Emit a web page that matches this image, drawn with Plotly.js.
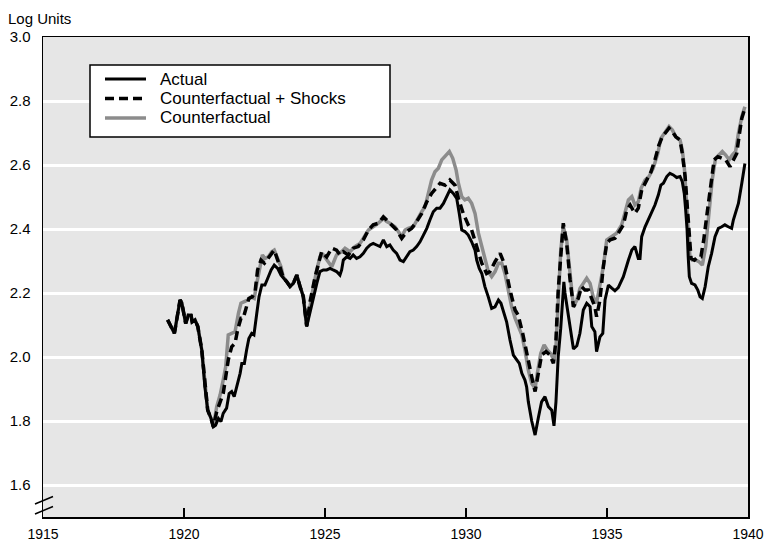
<!DOCTYPE html>
<html>
<head>
<meta charset="utf-8">
<script src="https://cdn.plot.ly/plotly-3.0.1.min.js"></script>
<style>html,body{margin:0;padding:0;background:#fff;}#chart{width:768px;height:543px;}</style>
</head>
<body>
<div id="chart"></div>
<script>
// [year, log units]
const actual = [[1919.42,2.116],[1919.66,2.074],[1919.86,2.178],[1919.92,2.170],[1920.06,2.105],[1920.15,2.131],[1920.25,2.130],[1920.29,2.110],[1920.39,2.116],[1920.49,2.095],[1920.63,2.022],[1920.74,1.907],[1920.84,1.834],[1920.96,1.808],[1921.04,1.782],[1921.12,1.787],[1921.22,1.808],[1921.31,1.798],[1921.39,1.824],[1921.51,1.840],[1921.60,1.886],[1921.69,1.892],[1921.78,1.876],[1921.87,1.907],[1921.99,1.949],[1922.05,1.980],[1922.14,1.980],[1922.22,2.022],[1922.30,2.058],[1922.40,2.074],[1922.48,2.069],[1922.58,2.136],[1922.66,2.188],[1922.76,2.225],[1922.87,2.225],[1922.97,2.246],[1923.09,2.272],[1923.20,2.287],[1923.32,2.277],[1923.44,2.256],[1923.52,2.246],[1923.64,2.235],[1923.76,2.220],[1923.88,2.230],[1924.00,2.256],[1924.11,2.220],[1924.23,2.188],[1924.35,2.095],[1924.47,2.140],[1924.59,2.194],[1924.71,2.230],[1924.82,2.267],[1924.94,2.272],[1925.06,2.272],[1925.18,2.277],[1925.29,2.272],[1925.41,2.267],[1925.53,2.256],[1925.59,2.272],[1925.65,2.303],[1925.77,2.313],[1925.89,2.308],[1926.00,2.319],[1926.12,2.308],[1926.24,2.313],[1926.36,2.324],[1926.48,2.340],[1926.60,2.350],[1926.71,2.355],[1926.83,2.350],[1926.95,2.345],[1927.07,2.366],[1927.19,2.345],[1927.30,2.350],[1927.42,2.334],[1927.54,2.324],[1927.66,2.303],[1927.78,2.298],[1927.90,2.313],[1928.01,2.329],[1928.13,2.334],[1928.25,2.345],[1928.37,2.360],[1928.49,2.381],[1928.61,2.402],[1928.72,2.428],[1928.84,2.454],[1928.96,2.465],[1929.08,2.465],[1929.20,2.480],[1929.32,2.501],[1929.43,2.522],[1929.55,2.511],[1929.67,2.496],[1929.76,2.449],[1929.85,2.397],[1929.96,2.392],[1930.08,2.381],[1930.20,2.360],[1930.32,2.334],[1930.38,2.303],[1930.47,2.277],[1930.56,2.261],[1930.67,2.220],[1930.79,2.188],[1930.91,2.152],[1931.03,2.157],[1931.15,2.178],[1931.24,2.168],[1931.35,2.136],[1931.44,2.110],[1931.56,2.053],[1931.68,2.006],[1931.80,1.991],[1931.89,1.980],[1931.98,1.949],[1932.09,1.928],[1932.15,1.907],[1932.21,1.860],[1932.33,1.800],[1932.45,1.756],[1932.56,1.808],[1932.68,1.860],[1932.80,1.876],[1932.92,1.845],[1933.04,1.834],[1933.12,1.785],[1933.19,1.860],[1933.27,2.001],[1933.36,2.090],[1933.43,2.200],[1933.47,2.235],[1933.51,2.200],[1933.63,2.130],[1933.75,2.050],[1933.81,2.025],[1933.93,2.035],[1934.04,2.074],[1934.16,2.147],[1934.28,2.168],[1934.40,2.157],[1934.46,2.095],[1934.57,2.079],[1934.63,2.017],[1934.75,2.063],[1934.85,2.074],[1934.93,2.178],[1935.05,2.225],[1935.17,2.215],[1935.28,2.207],[1935.40,2.217],[1935.58,2.251],[1935.76,2.303],[1935.88,2.334],[1935.99,2.345],[1936.11,2.308],[1936.17,2.308],[1936.23,2.376],[1936.35,2.407],[1936.46,2.428],[1936.59,2.454],[1936.70,2.475],[1936.82,2.506],[1936.91,2.537],[1937.00,2.543],[1937.12,2.564],[1937.23,2.574],[1937.35,2.569],[1937.47,2.561],[1937.59,2.564],[1937.67,2.548],[1937.74,2.511],[1937.79,2.459],[1937.84,2.397],[1937.88,2.313],[1937.92,2.251],[1938.00,2.230],[1938.12,2.225],[1938.22,2.209],[1938.30,2.188],[1938.38,2.183],[1938.48,2.220],[1938.59,2.282],[1938.71,2.324],[1938.83,2.376],[1938.95,2.402],[1939.07,2.407],[1939.18,2.413],[1939.30,2.407],[1939.42,2.402],[1939.48,2.428],[1939.60,2.465],[1939.66,2.480],[1939.78,2.543],[1939.89,2.605]];

const counterfactualShocks = [[1919.42,2.116],[1919.66,2.074],[1919.86,2.178],[1919.92,2.170],[1920.06,2.105],[1920.15,2.131],[1920.25,2.130],[1920.29,2.110],[1920.39,2.116],[1920.49,2.095],[1920.63,2.022],[1920.74,1.907],[1920.84,1.834],[1920.96,1.808],[1921.04,1.782],[1921.16,1.829],[1921.28,1.855],[1921.39,1.886],[1921.48,1.938],[1921.57,1.991],[1921.69,2.032],[1921.81,2.043],[1921.90,2.084],[1922.02,2.121],[1922.10,2.121],[1922.19,2.152],[1922.30,2.183],[1922.42,2.188],[1922.52,2.204],[1922.61,2.272],[1922.73,2.303],[1922.85,2.293],[1922.97,2.308],[1923.09,2.324],[1923.20,2.334],[1923.34,2.298],[1923.44,2.270],[1923.52,2.248],[1923.64,2.236],[1923.76,2.221],[1923.88,2.231],[1924.00,2.256],[1924.11,2.221],[1924.23,2.189],[1924.35,2.097],[1924.47,2.173],[1924.65,2.251],[1924.88,2.329],[1925.06,2.313],[1925.24,2.340],[1925.41,2.334],[1925.53,2.319],[1925.65,2.329],[1925.83,2.319],[1926.00,2.340],[1926.18,2.345],[1926.36,2.366],[1926.54,2.397],[1926.71,2.413],[1926.89,2.418],[1927.07,2.438],[1927.19,2.428],[1927.37,2.413],[1927.54,2.397],[1927.72,2.371],[1927.90,2.392],[1928.07,2.402],[1928.25,2.423],[1928.43,2.449],[1928.61,2.485],[1928.78,2.511],[1928.96,2.532],[1929.08,2.543],[1929.26,2.537],[1929.43,2.553],[1929.61,2.537],[1929.73,2.496],[1929.90,2.449],[1930.08,2.413],[1930.20,2.397],[1930.38,2.345],[1930.56,2.293],[1930.73,2.261],[1930.85,2.267],[1931.03,2.298],[1931.21,2.324],[1931.38,2.287],[1931.56,2.209],[1931.74,2.147],[1931.85,2.131],[1932.01,2.074],[1932.15,2.011],[1932.33,1.938],[1932.45,1.892],[1932.56,1.949],[1932.68,2.006],[1932.84,2.017],[1932.98,2.006],[1933.10,1.980],[1933.19,2.053],[1933.27,2.209],[1933.39,2.366],[1933.45,2.418],[1933.57,2.355],[1933.69,2.241],[1933.81,2.157],[1933.98,2.183],[1934.10,2.220],[1934.22,2.209],[1934.34,2.209],[1934.46,2.178],[1934.57,2.157],[1934.63,2.126],[1934.75,2.178],[1934.87,2.282],[1934.99,2.355],[1935.11,2.366],[1935.28,2.371],[1935.40,2.387],[1935.58,2.413],[1935.70,2.459],[1935.82,2.475],[1935.99,2.449],[1936.11,2.465],[1936.23,2.522],[1936.41,2.553],[1936.56,2.579],[1936.70,2.616],[1936.84,2.662],[1936.96,2.688],[1937.08,2.704],[1937.20,2.715],[1937.32,2.704],[1937.44,2.688],[1937.59,2.678],[1937.67,2.636],[1937.77,2.564],[1937.84,2.470],[1937.91,2.376],[1937.98,2.308],[1938.10,2.303],[1938.22,2.313],[1938.33,2.313],[1938.43,2.366],[1938.55,2.449],[1938.66,2.532],[1938.80,2.616],[1938.93,2.626],[1939.07,2.621],[1939.21,2.616],[1939.36,2.595],[1939.48,2.616],[1939.60,2.636],[1939.68,2.688],[1939.78,2.746],[1939.89,2.777]];

const counterfactual = [[1919.42,2.116],[1919.66,2.074],[1919.86,2.178],[1919.92,2.170],[1920.06,2.105],[1920.15,2.131],[1920.25,2.130],[1920.29,2.110],[1920.39,2.116],[1920.49,2.095],[1920.63,2.022],[1920.74,1.907],[1920.84,1.834],[1920.96,1.808],[1921.04,1.782],[1921.16,1.845],[1921.28,1.881],[1921.39,1.928],[1921.48,1.970],[1921.57,2.069],[1921.69,2.074],[1921.81,2.079],[1921.93,2.136],[1922.02,2.168],[1922.14,2.173],[1922.26,2.178],[1922.38,2.188],[1922.49,2.183],[1922.58,2.230],[1922.70,2.287],[1922.78,2.319],[1922.87,2.308],[1922.99,2.313],[1923.11,2.329],[1923.20,2.334],[1923.32,2.308],[1923.44,2.282],[1923.52,2.250],[1923.64,2.237],[1923.76,2.222],[1923.88,2.232],[1924.00,2.256],[1924.11,2.222],[1924.23,2.190],[1924.35,2.098],[1924.47,2.168],[1924.59,2.220],[1924.71,2.272],[1924.82,2.313],[1924.94,2.319],[1925.06,2.303],[1925.18,2.287],[1925.24,2.282],[1925.41,2.319],[1925.59,2.329],[1925.71,2.340],[1925.89,2.329],[1926.06,2.345],[1926.24,2.355],[1926.36,2.371],[1926.54,2.397],[1926.71,2.407],[1926.89,2.418],[1927.07,2.433],[1927.19,2.423],[1927.30,2.418],[1927.48,2.407],[1927.60,2.392],[1927.72,2.376],[1927.84,2.397],[1927.95,2.402],[1928.13,2.407],[1928.25,2.428],[1928.43,2.454],[1928.55,2.470],[1928.66,2.511],[1928.78,2.553],[1928.90,2.579],[1929.02,2.590],[1929.14,2.616],[1929.26,2.626],[1929.41,2.642],[1929.53,2.621],[1929.65,2.584],[1929.73,2.543],[1929.85,2.501],[1929.96,2.491],[1930.08,2.496],[1930.20,2.480],[1930.32,2.449],[1930.44,2.387],[1930.56,2.345],[1930.67,2.303],[1930.79,2.267],[1930.91,2.251],[1931.03,2.267],[1931.15,2.293],[1931.27,2.293],[1931.38,2.261],[1931.50,2.209],[1931.62,2.157],[1931.74,2.121],[1931.85,2.100],[1931.98,2.069],[1932.09,2.022],[1932.21,1.959],[1932.33,1.917],[1932.45,1.902],[1932.53,1.949],[1932.65,2.011],[1932.77,2.038],[1932.88,2.022],[1933.00,2.011],[1933.12,1.991],[1933.19,2.032],[1933.27,2.168],[1933.36,2.334],[1933.45,2.407],[1933.57,2.366],[1933.69,2.261],[1933.81,2.157],[1933.93,2.178],[1934.04,2.214],[1934.16,2.230],[1934.28,2.246],[1934.40,2.230],[1934.51,2.188],[1934.63,2.168],[1934.75,2.220],[1934.87,2.282],[1934.99,2.366],[1935.17,2.376],[1935.34,2.387],[1935.52,2.413],[1935.64,2.449],[1935.76,2.491],[1935.88,2.501],[1935.99,2.475],[1936.11,2.485],[1936.21,2.527],[1936.35,2.553],[1936.49,2.564],[1936.64,2.590],[1936.80,2.636],[1936.91,2.683],[1937.06,2.704],[1937.20,2.720],[1937.32,2.709],[1937.44,2.688],[1937.59,2.678],[1937.67,2.647],[1937.74,2.595],[1937.81,2.501],[1937.88,2.397],[1937.94,2.313],[1938.02,2.303],[1938.14,2.303],[1938.26,2.298],[1938.38,2.287],[1938.50,2.345],[1938.62,2.449],[1938.73,2.553],[1938.85,2.621],[1938.97,2.631],[1939.09,2.642],[1939.21,2.631],[1939.33,2.616],[1939.44,2.631],[1939.56,2.642],[1939.66,2.699],[1939.78,2.751],[1939.89,2.782]];

const seriesNames = ['Actual', 'Counterfactual + Shocks', 'Counterfactual'];
const xTicks = [1915, 1920, 1925, 1930, 1935, 1940];
const yTicks = [1.6, 1.8, 2.0, 2.2, 2.4, 2.6, 2.8, 3.0];
const yTickLabels = ['1.6', '1.8', '2.0', '2.2', '2.4', '2.6', '2.8', '3.0'];

const FONT = 'Liberation Sans, Arial, Helvetica, sans-serif';
const xs = a => a.map(p => p[0]);
const ys = a => a.map(p => p[1]);

const styles = [
  {color: '#000000', width: 3},
  {color: '#000000', width: 3.5, dash: '9px,5px'},
  {color: '#8c8c8c', width: 3.5}
];
const seriesData = [actual, counterfactualShocks, counterfactual];

// draw gray first, then dashed, then actual on top
const traces = [2, 1, 0].map(i => ({
  x: xs(seriesData[i]), y: ys(seriesData[i]), name: seriesNames[i],
  type: 'scatter', mode: 'lines', line: styles[i], showlegend: false
}));

// plot area geometry in px (for placing the boxed key)
const PW = 705, PH = 480, ML = 43, MT = 37;
const px = v => (v - ML) / PW;
const py = v => 1 - (v - MT) / PH;

const keyRows = [79, 98.5, 118];
const keyText = [79.5, 98.5, 117.5];

const shapes = [
  {type: 'rect', xref: 'paper', yref: 'paper', x0: px(90), x1: px(390), y0: py(137), y1: py(65),
   fillcolor: '#ffffff', line: {color: '#000', width: 1.5}, layer: 'above'},
  ...keyRows.map((r, i) => ({type: 'line', xref: 'paper', yref: 'paper',
     x0: px(105), x1: px(146), y0: py(r), y1: py(r), line: styles[i], layer: 'above'})),
  {type: 'line', xref: 'paper', yref: 'paper', x0: px(35), y0: py(504), x1: px(53), y1: py(496.5),
   line: {color: '#000', width: 1.5}},
  {type: 'line', xref: 'paper', yref: 'paper', x0: px(35), y0: py(514), x1: px(53), y1: py(506.5),
   line: {color: '#000', width: 1.5}}
];

const annotations = seriesNames.map((n, i) => ({
  text: n, xref: 'paper', yref: 'paper', x: px(159), y: py(keyText[i]),
  xanchor: 'left', yanchor: 'middle', showarrow: false, borderpad: 0,
  font: {family: FONT, size: 17, color: '#000'}
}));

const layout = {
  width: 768, height: 543,
  margin: {l: 43, r: 20, t: 37, b: 26, pad: 0},
  paper_bgcolor: '#ffffff',
  plot_bgcolor: '#e6e6e6',
  font: {family: FONT, size: 15, color: '#000'},
  title: {text: 'Log Units', x: 8/768, xref: 'container', xanchor: 'left',
          y: 1 - 19/543, yref: 'container', yanchor: 'middle',
          font: {family: FONT, size: 15, color: '#000'}},
  showlegend: false,
  xaxis: {range: [1915, 1940], tickvals: xTicks, ticktext: xTicks.map(String),
          ticks: 'inside', ticklen: 9, tickwidth: 1.5, tickcolor: '#000',
          showline: true, linecolor: '#000', linewidth: 1.5, mirror: true,
          showgrid: false, zeroline: false, ticklabelstandoff: 4,
          tickfont: {family: FONT, size: 14, color: '#000'}},
  yaxis: {range: [1.5, 3.0], tickvals: yTicks, ticktext: yTickLabels,
          ticks: '', showline: true, linecolor: '#000', linewidth: 1.5, mirror: true,
          showgrid: true, gridcolor: '#ffffff', gridwidth: 3, zeroline: false,
          ticklabelstandoff: 8,
          tickfont: {family: FONT, size: 15, color: '#000'}},
  shapes: shapes,
  annotations: annotations
};

Plotly.newPlot('chart', traces, layout, {staticPlot: true, displayModeBar: false});
</script>
</body>
</html>
